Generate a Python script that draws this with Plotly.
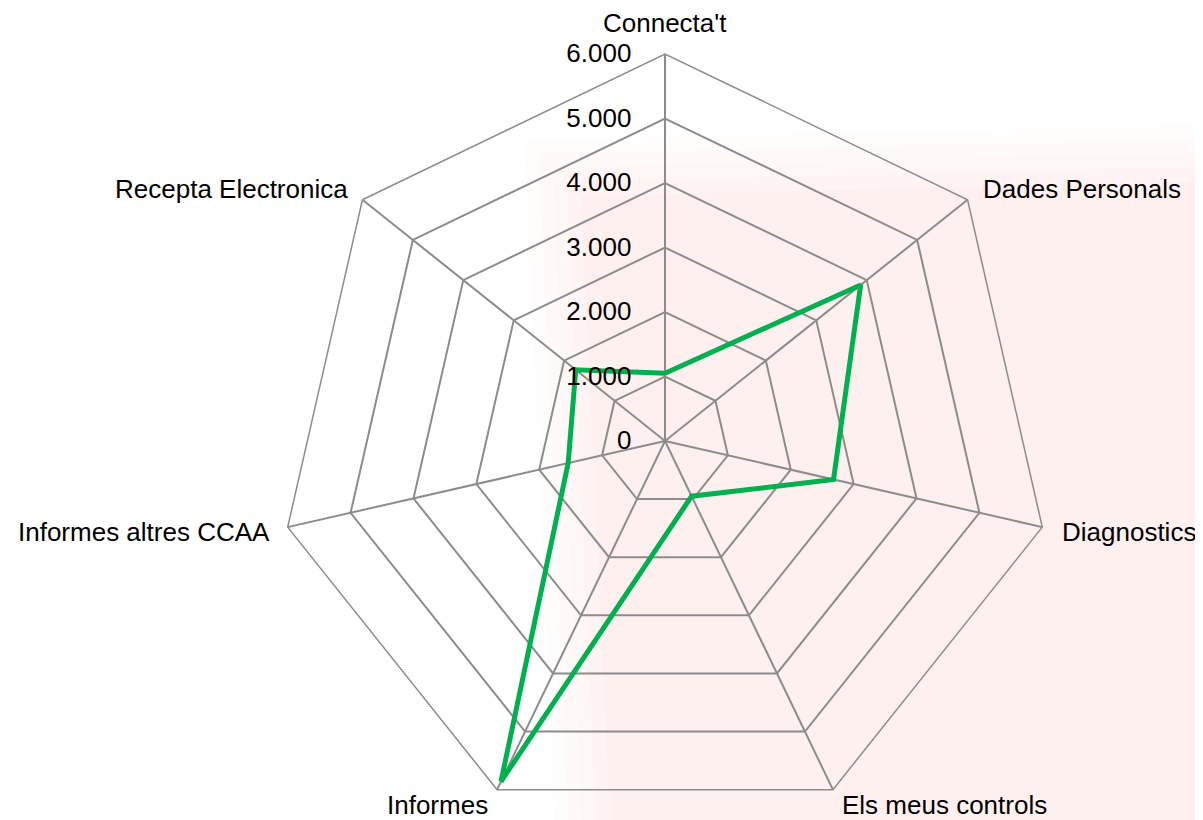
import plotly.graph_objects as go

categories = ["Connecta't", "Dades Personals", "Diagnostics", "Els meus controls",
              "Informes", "Informes altres CCAA", "Recepta Electronica"]
values = [1050, 3880, 2680, 950, 5860, 1540, 1770]
tick_vals = [0, 1000, 2000, 3000, 4000, 5000, 6000]
tick_text = ["0", "1.000", "2.000", "3.000", "4.000", "5.000", "6.000"]

W, H = 1203, 820
OFF = 8  # page body margin offset
cx, top = 657, 46
r = (H - top) / 2
FONT = "Liberation Sans, Arial, sans-serif"
FS = 26

# on-screen pixel placement of category labels (x, y_middle, xanchor)
label_pos = {
    "Connecta't": (665, 23, "center"),
    "Dades Personals": (981, 189, "left"),
    "Diagnostics": (1060, 532, "left"),
    "Els meus controls": (840, 805, "left"),
    "Informes": (490, 805, "right"),
    "Informes altres CCAA": (272, 532, "right"),
    "Recepta Electronica": (350, 189, "right"),
}


def px_to_paper(px, py):
    return (px - OFF) / W, (H - (py - OFF)) / (H - top)


fig = go.Figure()
fig.add_trace(go.Scatterpolar(
    r=values + values[:1],
    theta=categories + categories[:1],
    mode="lines",
    line=dict(color="#00B050", width=5),
    hoverinfo="skip",
))

annotations = []
for cat in categories:
    px, py, anchor = label_pos[cat]
    xp, yp = px_to_paper(px, py)
    annotations.append(dict(
        text=cat, x=xp, y=yp, xref="paper", yref="paper",
        xanchor=anchor, yanchor="middle", showarrow=False,
        font=dict(family=FONT, size=FS, color="black"),
    ))

# faint, soft-edged watermark-like pink background region
shapes = []
for k in range(5):
    d = 14 * k
    pts = [px_to_paper(525 + d, 140 + d), px_to_paper(1215, 125 + d),
           px_to_paper(1215, 840), px_to_paper(555 + d, 840)]
    path = "M " + " L ".join(f"{a} {b}" for a, b in pts) + " Z"
    shapes.append(dict(
        type="path", xref="paper", yref="paper", layer="below",
        path=path, fillcolor="rgba(235,110,130,0.025)", line=dict(width=0),
    ))

fig.update_layout(
    width=W, height=H,
    margin=dict(l=0, r=0, t=top, b=0),
    paper_bgcolor="white",
    plot_bgcolor="rgba(0,0,0,0)",
    showlegend=False,
    font=dict(family=FONT, size=FS, color="black"),
    annotations=annotations,
    shapes=shapes,
    polar=dict(
        domain=dict(x=[(cx - r) / W, (cx + r) / W], y=[0, 1]),
        bgcolor="rgba(0,0,0,0)",
        gridshape="linear",
        radialaxis=dict(
            range=[0, 6000],
            tickvals=tick_vals,
            ticktext=tick_text,
            angle=90,
            side="counterclockwise",
            tickangle=90,
            ticks="outside",
            ticklen=24,
            tickcolor="rgba(0,0,0,0)",
            showline=False,
            gridcolor="#8c8c8c",
            gridwidth=1.5,
            tickfont=dict(family=FONT, size=FS, color="black"),
        ),
        angularaxis=dict(
            direction="clockwise",
            rotation=90,
            showline=True,
            linecolor="#8c8c8c",
            linewidth=1.5,
            gridcolor="#8c8c8c",
            gridwidth=1.5,
            ticks="",
            showticklabels=False,
        ),
    ),
)

fig.write_html("out.html")
